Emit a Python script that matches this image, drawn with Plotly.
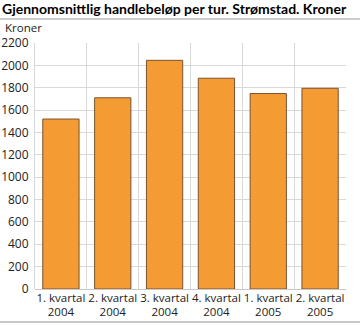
import plotly.graph_objects as go

categories = ["1. kvartal<br>2004", "2. kvartal<br>2004", "3. kvartal<br>2004",
              "4. kvartal<br>2004", "1. kvartal<br>2005", "2. kvartal<br>2005"]
values = [1520, 1710, 2045, 1885, 1748, 1795]
y_ticks = list(range(0, 2201, 200))

W, H = 360, 325
L, R, T, B = 35, 14, 43, 36
pw, ph = W - L - R, H - T - B

def px_x(p):
    return (p - L) / pw

def px_y(p):
    return (H - B - p) / ph

fig = go.Figure(go.Bar(
    x=categories, y=values,
    marker=dict(color="#f59b34", line=dict(color="#7a5230", width=1)),
    width=0.7,
))

font = "Open Sans, DejaVu Sans, sans-serif"
fig.update_layout(
    width=W, height=H,
    margin=dict(l=L, r=R, t=T, b=B),
    paper_bgcolor="white", plot_bgcolor="white",
    showlegend=False,
    font=dict(family=font, size=11, color="#222"),
    title=dict(text="Gjennomsnittlig handlebeløp per tur. Strømstad. Kroner",
               x=2 / W, xanchor="left", xref="container", y=1 - 9 / H, yanchor="middle",
               font=dict(size=14, family="Lato, Open Sans, sans-serif", color="#000", weight="bold")),
    xaxis=dict(type="category", tickson="boundaries", showgrid=True,
               gridcolor="#d9d9d9", gridwidth=1, ticks="", showline=False,
               tickangle=0, automargin=False,
               tickfont=dict(size=11.5, color="#222"), range=[-0.5, 5.5]),
    yaxis=dict(range=[0, 2200], tickvals=y_ticks, showgrid=True,
               gridcolor="#d9d9d9", gridwidth=1, zeroline=True,
               zerolinecolor="#c8c8c8", zerolinewidth=1,
               showline=True, linecolor="#d9d9d9", linewidth=1,
               ticks="", automargin=False, ticklabelstandoff=3,
               tickfont=dict(size=12, color="#222")),
    shapes=[
        dict(type="line", xref="paper", yref="paper", x0=px_x(0), x1=px_x(W),
             y0=px_y(19), y1=px_y(19), line=dict(color="#999", width=1)),
        dict(type="line", xref="paper", yref="paper", x0=px_x(0), x1=px_x(W),
             y0=px_y(322), y1=px_y(322), line=dict(color="#c8c8c8", width=2)),
    ],
    annotations=[
        dict(text="Kroner", xref="paper", yref="paper", x=px_x(3), y=px_y(28),
             xanchor="left", yanchor="middle", showarrow=False,
             font=dict(size=11.5, color="#222")),
    ],
    bargap=0.3,
)

fig.write_html("out.html")
